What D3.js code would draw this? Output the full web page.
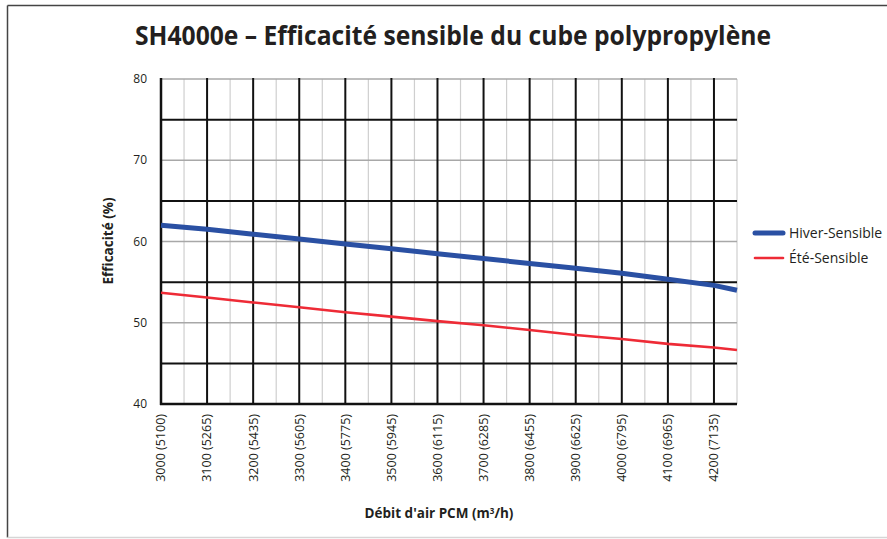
<!DOCTYPE html>
<html>

<head>
	<meta charset="utf-8">
	<script src="https://cdn.jsdelivr.net/npm/d3@7"></script>
	<style>
		body {
			margin: 0;
			background: white;
		}

		text {
			font-family: "Open Sans", "Noto Sans", sans-serif;
			fill: #231f20;
		}

		.grid-major {
			stroke: #111;
			stroke-width: 2;
		}

		.grid-minor-v {
			stroke: #cfcfcf;
			stroke-width: 1.2;
		}

		.grid-minor-h {
			stroke: #a8a8a8;
			stroke-width: 1.5;
		}

		.line {
			fill: none;
			stroke-linejoin: round;
		}
	</style>
</head>

<body>
	<svg width="887" height="539"></svg>
	<script>

		// debit d'air (PCM) where the curves were read
		var debits = [3000, 3100, 3200, 3300, 3400, 3500, 3600, 3700, 3800, 3900, 4000, 4100, 4200, 4250];
		var hiver = [62.0, 61.5, 60.9, 60.3, 59.7, 59.1, 58.5, 57.9, 57.3, 56.7, 56.1, 55.35, 54.6, 54.0];
		var ete = [53.7, 53.1, 52.5, 51.9, 51.3, 50.75, 50.2, 49.7, 49.1, 48.5, 48.0, 47.4, 46.95, 46.65];

		// tick labels: PCM with m3/h in brackets
		var tickPcm = [3000, 3100, 3200, 3300, 3400, 3500, 3600, 3700, 3800, 3900, 4000, 4100, 4200];
		var tickM3h = [5100, 5265, 5435, 5605, 5775, 5945, 6115, 6285, 6455, 6625, 6795, 6965, 7135];
		var yTicks = [40, 50, 60, 70, 80];

		var series = [
			{ name: "Hiver-Sensible", values: hiver, color: "#2a50a3", width: 5 },
			{ name: "Été-Sensible", values: ete, color: "#ee2b36", width: 2.6 }
		];

		var plot = { left: 161, right: 737, top: 79, bottom: 404 };

		var svg = d3.select("svg");

		var x = d3.scaleLinear()
			.domain([3000, 4250])
			.range([plot.left, plot.right]);

		var y = d3.scaleLinear()
			.domain([40, 80])
			.range([plot.bottom, plot.top]);

		// frame around the picture
		svg.append("line")
			.attr("x1", 7.5).attr("x2", 887).attr("y1", 5.5).attr("y2", 5.5)
			.attr("stroke", "#444").attr("stroke-width", 1.5);
		svg.append("line")
			.attr("x1", 7.5).attr("x2", 7.5).attr("y1", 5.5).attr("y2", 537.5)
			.attr("stroke", "#444").attr("stroke-width", 1.5);
		svg.append("line")
			.attr("x1", 7.5).attr("x2", 887).attr("y1", 537.5).attr("y2", 537.5)
			.attr("stroke", "#d6d6d6").attr("stroke-width", 1.5);

		svg.append("text")
			.attr("x", 453)
			.attr("y", 45)
			.attr("text-anchor", "middle")
			.attr("textLength", 636)
			.attr("lengthAdjust", "spacingAndGlyphs")
			.style("font-size", "27px")
			.style("font-weight", "bold")
			.text("SH4000e – Efficacité sensible du cube polypropylène");

		var grid = svg.append("g");

		// minor lines every 50 PCM and every 10 %
		var minorX = d3.range(3050, 4251, 100);
		grid.selectAll(".grid-minor-v")
			.data(minorX)
			.enter().append("line")
			.attr("class", "grid-minor-v")
			.attr("x1", d => x(d)).attr("x2", d => x(d))
			.attr("y1", y(80)).attr("y2", y(40));

		grid.selectAll(".grid-minor-h")
			.data([50, 60, 70, 80])
			.enter().append("line")
			.attr("class", "grid-minor-h")
			.attr("x1", x(3000)).attr("x2", x(4250))
			.attr("y1", d => y(d)).attr("y2", d => y(d));

		grid.selectAll(".grid-major-v")
			.data(tickPcm.slice(1))
			.enter().append("line")
			.attr("class", "grid-major")
			.attr("x1", d => x(d)).attr("x2", d => x(d))
			.attr("y1", y(80) - 1).attr("y2", y(40));

		grid.selectAll(".grid-major-h")
			.data([45, 55, 65, 75])
			.enter().append("line")
			.attr("class", "grid-major")
			.attr("x1", x(3000)).attr("x2", x(4250))
			.attr("y1", d => y(d)).attr("y2", d => y(d));

		// axes lines
		svg.append("line")
			.attr("x1", x(3000)).attr("x2", x(3000))
			.attr("y1", y(80) - 1).attr("y2", y(40) + 1)
			.attr("stroke", "#111").attr("stroke-width", 2.5);
		svg.append("line")
			.attr("x1", x(3000) - 1).attr("x2", x(4250))
			.attr("y1", y(40)).attr("y2", y(40))
			.attr("stroke", "#111").attr("stroke-width", 2.5);

		svg.selectAll(".ytick")
			.data(yTicks)
			.enter().append("text")
			.attr("class", "ytick")
			.attr("x", 147)
			.attr("y", d => y(d))
			.attr("dy", "0.35em")
			.attr("text-anchor", "end")
			.style("font-size", "12px")
			.text(d => d);

		svg.selectAll(".xtick")
			.data(tickPcm)
			.enter().append("text")
			.attr("class", "xtick")
			.attr("transform", d => "translate(" + x(d) + ",414) rotate(-90)")
			.attr("dy", "0.35em")
			.attr("text-anchor", "end")
			.style("font-size", "12.5px")
			.text((d, i) => d + " (" + tickM3h[i] + ")");

		svg.append("text")
			.attr("transform", "translate(108,241) rotate(-90)")
			.attr("dy", "0.35em")
			.attr("text-anchor", "middle")
			.style("font-size", "13.5px")
			.style("font-weight", "bold")
			.text("Efficacité (%)");

		var xTitle = svg.append("text")
			.attr("x", 439)
			.attr("y", 518)
			.attr("text-anchor", "middle")
			.style("font-size", "13.5px")
			.style("font-weight", "bold");
		xTitle.append("tspan").text("Débit d'air PCM (m");
		xTitle.append("tspan").attr("dy", -4).style("font-size", "8px").text("3");
		xTitle.append("tspan").attr("dy", 4).text("/h)");

		var line = d3.line()
			.x((d, i) => x(debits[i]))
			.y(d => y(d));

		svg.selectAll(".line")
			.data(series)
			.enter().append("path")
			.attr("class", "line")
			.attr("stroke", d => d.color)
			.attr("stroke-width", d => d.width)
			.attr("d", d => line(d.values));

		var legend = svg.selectAll(".legend")
			.data(series)
			.enter().append("g")
			.attr("class", "legend")
			.attr("transform", (d, i) => "translate(755," + (233 + i * 25) + ")");

		legend.append("line")
			.attr("x1", 0).attr("x2", 28)
			.attr("stroke", d => d.color)
			.attr("stroke-width", d => d.width)
			.attr("stroke-linecap", "round");

		legend.append("text")
			.attr("x", 34)
			.attr("dy", "0.35em")
			.style("font-size", "14px")
			.text(d => d.name);

	</script>
</body>

</html>
